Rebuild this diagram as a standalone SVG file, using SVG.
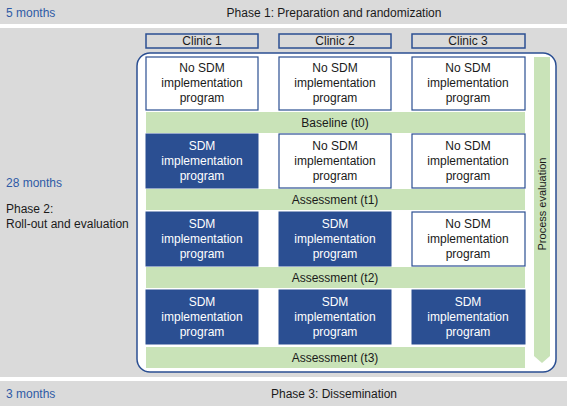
<svg xmlns="http://www.w3.org/2000/svg" width="567" height="406" viewBox="0 0 567 406">
<style>
text{font-family:"Liberation Sans",Arial,sans-serif;font-size:12px;fill:#1a1a1a}
.blue{fill:#2f5aa6}
.c{text-anchor:middle}
.w{fill:#ffffff}
.cell{fill:#ffffff;stroke:#2b4f92;stroke-width:1.2}
.sdm{fill:#2b4f92;stroke:#2b4f92;stroke-width:1}
.band{fill:#c9e3b8}
.hdr{fill:none;stroke:#2b4f92;stroke-width:1.5}
</style>
<rect width="567" height="406" fill="#ffffff"/>
<rect x="0" y="0" width="567" height="24" fill="#dadada"/>
<rect x="0" y="28" width="567" height="349" fill="#dadada"/>
<rect x="0" y="381" width="567" height="25" fill="#dadada"/>
<g id="phase1"><text x="6" y="17" class="blue">5 months</text><text x="334" y="17" class="c">Phase 1: Preparation and randomization</text></g>
<g id="phase2"><text x="6" y="187" class="blue">28 months</text><text x="6" y="213">Phase 2:</text><text x="6" y="228">Roll-out and evaluation</text></g>
<g id="phase3"><text x="6" y="398" class="blue">3 months</text><text x="334" y="398" class="c">Phase 3: Dissemination</text></g>
<g id="clinics">
<rect x="146" y="34" width="112" height="14" class="hdr"/><text x="202" y="45" class="c">Clinic 1</text>
<rect x="279" y="34" width="112" height="14" class="hdr"/><text x="335" y="45" class="c">Clinic 2</text>
<rect x="412" y="34" width="113" height="14" class="hdr"/><text x="468" y="45" class="c">Clinic 3</text>
</g>
<g id="frame"><rect x="137" y="53" width="419" height="319" rx="13" fill="#ffffff" stroke="#2b4f92" stroke-width="1.5"/></g>
<g id="process"><path d="M534 57 H550 V356 L542 363 L534 356 Z" class="band"/><text transform="translate(546 204) rotate(-90)" class="c" style="font-size:11px">Process evaluation</text></g>
<g id="bands">
<rect x="146" y="112" width="379" height="21" class="band"/><text x="335" y="127" class="c">Baseline (t0)</text>
<rect x="146" y="189" width="379" height="21" class="band"/><text x="335" y="204" class="c">Assessment (t1)</text>
<rect x="146" y="267" width="379" height="21" class="band"/><text x="335" y="282" class="c">Assessment (t2)</text>
<rect x="146" y="347" width="379" height="21" class="band"/><text x="335" y="362" class="c">Assessment (t3)</text>
</g>
<g id="r1c1"><rect x="146" y="57" width="112" height="53" class="cell"/><text x="202" y="72" class="c">No SDM</text><text x="202" y="87" class="c">implementation</text><text x="202" y="102" class="c">program</text></g>
<g id="r1c2"><rect x="279" y="57" width="112" height="53" class="cell"/><text x="335" y="72" class="c">No SDM</text><text x="335" y="87" class="c">implementation</text><text x="335" y="102" class="c">program</text></g>
<g id="r1c3"><rect x="412" y="57" width="113" height="53" class="cell"/><text x="468" y="72" class="c">No SDM</text><text x="468" y="87" class="c">implementation</text><text x="468" y="102" class="c">program</text></g>
<g id="r2c1"><rect x="146" y="134" width="112" height="54" class="sdm"/><text x="202" y="150" class="c w">SDM</text><text x="202" y="165" class="c w">implementation</text><text x="202" y="180" class="c w">program</text></g>
<g id="r2c2"><rect x="279" y="134" width="112" height="54" class="cell"/><text x="335" y="150" class="c">No SDM</text><text x="335" y="165" class="c">implementation</text><text x="335" y="180" class="c">program</text></g>
<g id="r2c3"><rect x="412" y="134" width="113" height="54" class="cell"/><text x="468" y="150" class="c">No SDM</text><text x="468" y="165" class="c">implementation</text><text x="468" y="180" class="c">program</text></g>
<g id="r3c1"><rect x="146" y="212" width="112" height="54" class="sdm"/><text x="202" y="228" class="c w">SDM</text><text x="202" y="243" class="c w">implementation</text><text x="202" y="258" class="c w">program</text></g>
<g id="r3c2"><rect x="279" y="212" width="112" height="54" class="sdm"/><text x="335" y="228" class="c w">SDM</text><text x="335" y="243" class="c w">implementation</text><text x="335" y="258" class="c w">program</text></g>
<g id="r3c3"><rect x="412" y="212" width="113" height="54" class="cell"/><text x="468" y="228" class="c">No SDM</text><text x="468" y="243" class="c">implementation</text><text x="468" y="258" class="c">program</text></g>
<g id="r4c1"><rect x="146" y="290" width="112" height="54" class="sdm"/><text x="202" y="306" class="c w">SDM</text><text x="202" y="321" class="c w">implementation</text><text x="202" y="336" class="c w">program</text></g>
<g id="r4c2"><rect x="279" y="290" width="112" height="54" class="sdm"/><text x="335" y="306" class="c w">SDM</text><text x="335" y="321" class="c w">implementation</text><text x="335" y="336" class="c w">program</text></g>
<g id="r4c3"><rect x="412" y="290" width="113" height="54" class="sdm"/><text x="468" y="306" class="c w">SDM</text><text x="468" y="321" class="c w">implementation</text><text x="468" y="336" class="c w">program</text></g>
</svg>
